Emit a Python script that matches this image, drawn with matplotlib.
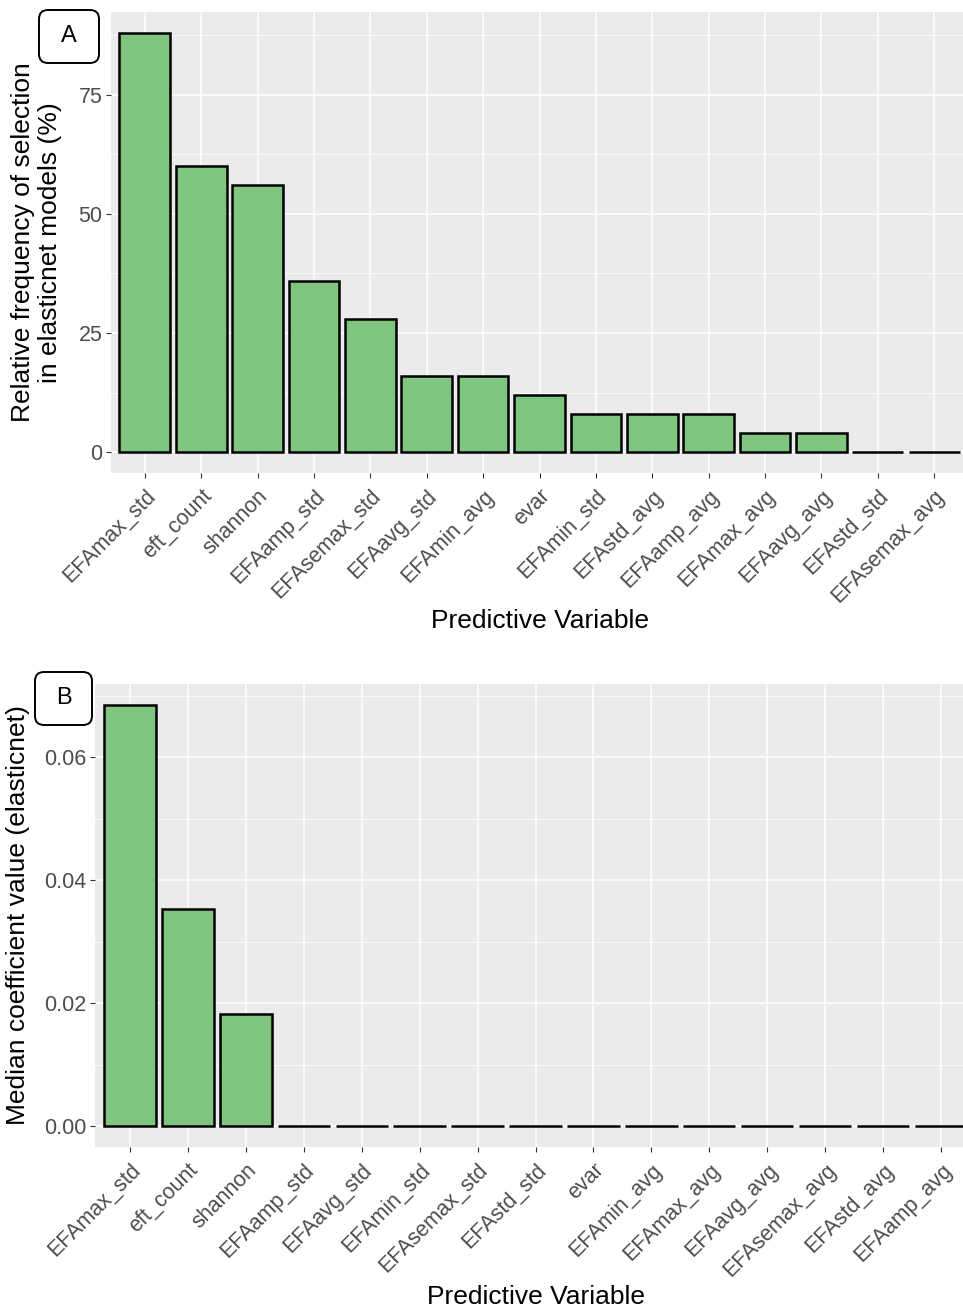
import numpy as np
import matplotlib.pyplot as plt
from matplotlib.patches import FancyBboxPatch
from matplotlib.transforms import IdentityTransform
from matplotlib.ticker import MultipleLocator

plt.rcParams["font.family"] = ["Liberation Sans", "DejaVu Sans"]

# panel A: selection frequency
vars_a = ['EFAmax_std', 'eft_count', 'shannon', 'EFAamp_std', 'EFAsemax_std',
          'EFAavg_std', 'EFAmin_avg', 'evar', 'EFAmin_std', 'EFAstd_avg',
          'EFAamp_avg', 'EFAmax_avg', 'EFAavg_avg', 'EFAstd_std', 'EFAsemax_avg']
freq_a = [88, 60, 56, 36, 28, 16, 16, 12, 8, 8, 8, 4, 4, 0, 0]

# panel B: median coefficient
vars_b = ['EFAmax_std', 'eft_count', 'shannon', 'EFAamp_std', 'EFAavg_std',
          'EFAmin_std', 'EFAsemax_std', 'EFAstd_std', 'evar', 'EFAmin_avg',
          'EFAmax_avg', 'EFAavg_avg', 'EFAsemax_avg', 'EFAstd_avg', 'EFAamp_avg']
coef_b = [0.0685, 0.0353, 0.0182, 0, 0, 0, 0, 0, 0, 0, 0, 0, 0, 0, 0]

W, H = 963, 1311
bar_col = '#7FC47F'
s_tick = 15.5
s_title = 19


def style(ax, cats, vals, major, minor):
    x = np.arange(len(cats))
    ax.set_facecolor('#EBEBEB')
    ax.bar(x, vals, width=0.9, color=bar_col, edgecolor='black', linewidth=1.8, zorder=3)
    ax.set_xlim(-0.6, len(cats) - 0.4)
    top = max(vals) * 1.05
    ax.set_ylim(-max(vals) * 0.05, top)
    ax.set_xticks(x)
    ax.set_xticklabels(cats, rotation=45, ha='right', va='top', rotation_mode='anchor')
    ax.yaxis.set_major_locator(MultipleLocator(major))
    ax.yaxis.set_minor_locator(MultipleLocator(minor))
    ax.grid(which='major', color='white', lw=1.1, zorder=0)
    ax.grid(which='minor', axis='y', color='white', lw=0.55, zorder=0)
    ax.set_axisbelow(True)
    for s in ax.spines.values():
        s.set_visible(False)
    ax.tick_params(axis='both', which='major', length=3.6, width=0.8, color='#333333',
                   labelcolor='#4D4D4D', labelsize=s_tick)
    ax.tick_params(axis='y', pad=2.5)
    ax.tick_params(axis='x', pad=5.5)
    ax.tick_params(which='minor', length=0)


fig = plt.figure(figsize=(W / 100, H / 100), dpi=100)

# panel A
ax1 = fig.add_axes([111 / W, (H - 473) / H, (968 - 111) / W, 461 / H])
style(ax1, vars_a, freq_a, 25, 12.5)
ax1.set_xlabel('Predictive Variable', fontsize=s_title, va='center')
ax1.xaxis.set_label_coords(0.5, -0.321)
ax1.set_ylabel('Relative frequency of selection\nin elasticnet models (%)',
               fontsize=s_title, va='center', ha='center', linespacing=1.15)
ax1.yaxis.set_label_coords(-0.087, 0.5)

# panel B
ax2 = fig.add_axes([95 / W, (H - 1147) / H, (976 - 95) / W, 463 / H])
style(ax2, vars_b, coef_b, 0.02, 0.01)
ax2.yaxis.set_major_formatter(plt.FormatStrFormatter('%.2f'))
ax2.set_xlabel('Predictive Variable', fontsize=s_title, va='center')
ax2.xaxis.set_label_coords(0.5, -0.324)
ax2.set_ylabel('Median coefficient value (elasticnet)', fontsize=s_title,
               va='center', ha='center')
ax2.yaxis.set_label_coords(-0.087, 0.5)

# panel letters
for lab, x0, y0, x1, y1 in [('A', 39, 10, 99, 63), ('B', 35, 672, 92, 725)]:
    box = FancyBboxPatch((x0, H - y1), x1 - x0, y1 - y0,
                         boxstyle='round,pad=0,rounding_size=9',
                         fc='white', ec='black', lw=1.4, transform=IdentityTransform())
    fig.add_artist(box)
    fig.text((x0 + x1) / 2 / W, 1 - (y0 + y1) / 2 / H, lab, ha='center', va='center',
             fontsize=17)

fig.savefig('out.png', dpi=100)
